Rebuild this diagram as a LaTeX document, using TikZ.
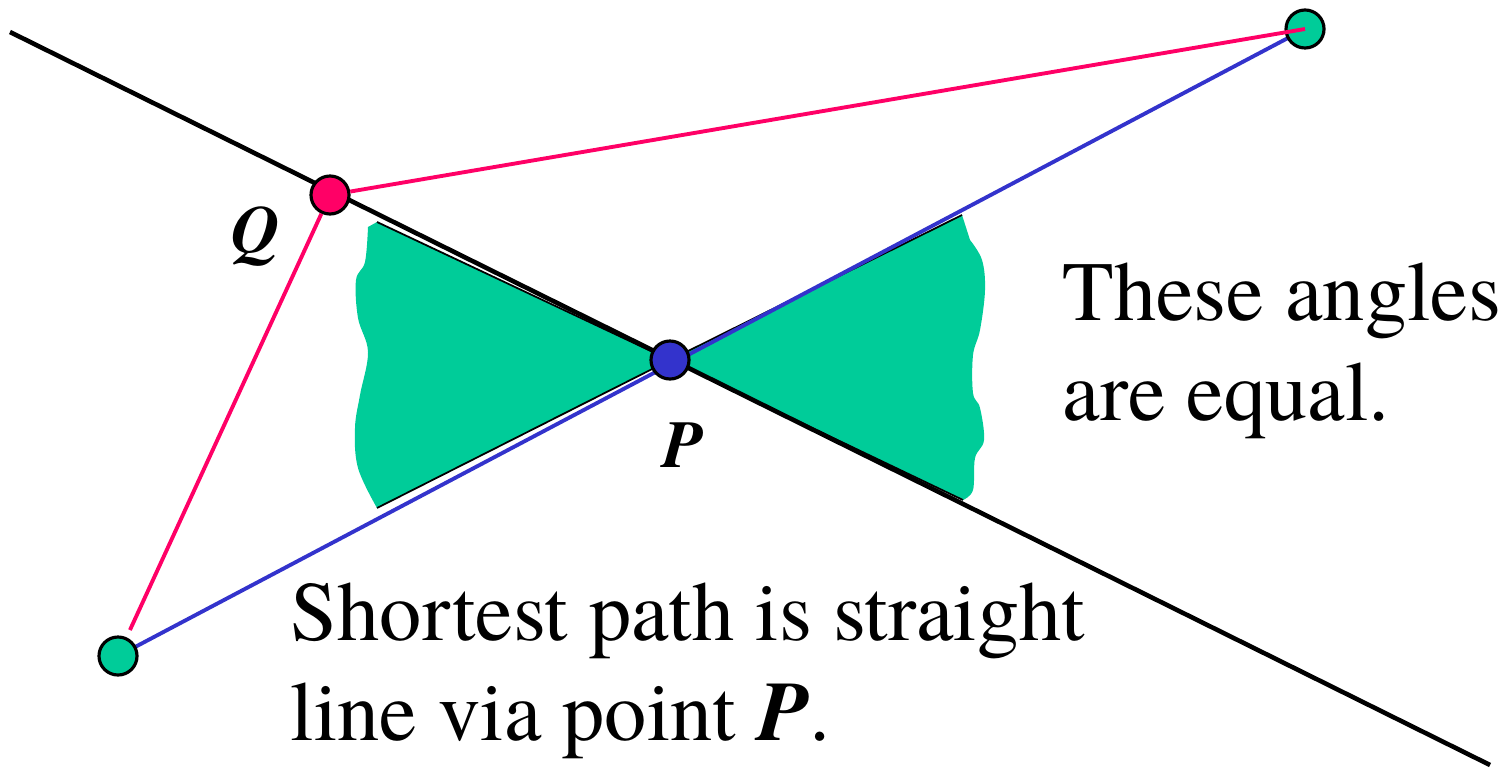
\documentclass[tikz,border=0pt]{standalone}
\usepackage{fontspec}
\setmainfont{texgyretermes}[Extension=.otf, UprightFont=*-regular, BoldFont=*-bold,
  ItalicFont=*-italic, BoldItalicFont=*-bolditalic]
\usetikzlibrary{backgrounds}
\definecolor{ptpink}{HTML}{FF0066}
\definecolor{ptblue}{HTML}{3333CC}
\definecolor{ptgreen}{HTML}{00CC99}

\begin{document}
\begin{tikzpicture}[
  x=0.01cm, y=-0.01cm,
  pt/.style={circle, draw=black, line width=0.9pt, minimum size=0.38cm, inner sep=0pt},
  ptlbl/.style={font=\fontsize{19}{22}\selectfont\bfseries\itshape, inner sep=0pt, anchor=base},
  note/.style={font=\fontsize{24}{28.4}\selectfont, align=left, inner sep=0pt, anchor=base west},
  wedge/.style={fill=ptgreen},
  wedgeedge/.style={line width=0.5pt, draw=black},
  mainline/.style={line width=1.3pt, draw=black},
  pinkline/.style={line width=1.1pt, draw=ptpink},
  blueline/.style={line width=1.1pt, draw=ptblue},
]
\useasboundingbox (0,0) rectangle (1504,767);

% ---- points ----
\node[pt, fill=ptpink]  (q) at (330,195)  {};
\node[pt, fill=ptblue]  (p) at (670,360)  {};
\node[pt, fill=ptgreen] (a) at (1305,29)  {};
\node[pt, fill=ptgreen] (b) at (118,656)  {};
\coordinate (l1) at (10,32);
\coordinate (l2) at (1490,765);

% ---- wedge corners ----
\coordinate (wl1) at (377,222);
\coordinate (wl2) at (377,508);
\coordinate (wr1) at (962,215);
\coordinate (wr2) at (963,500);

\begin{scope}[on background layer]
  % ---- equal angles ----
  \path[wedge] (p.center) -- (wl1) -- plot[smooth, tension=0.6] coordinates
    {(368,227) (365,262) (356,280) (358,318) (368,352) (360,395) (355,428) (358,468) (377,508)} -- cycle;
  \path[wedge] (p.center) -- (wr1) -- plot[smooth, tension=0.6] coordinates
    {(970,240) (982,260) (985,290) (980,330) (973,355) (973,393) (980,408) (984,440) (975,458) (973,490) (963,500)} -- cycle;
  \draw[wedgeedge] (wl1) -- (p.center) -- (wl2);
  \draw[wedgeedge] (wr1) -- (p.center) -- (wr2);

  % ---- lines ----
  \draw[mainline] (l1) -- (l2);
  \draw[blueline] (b.center) -- (a.center);
\end{scope}

\draw[pinkline, shorten >=0.08cm] (q) -- (b);
\draw[pinkline] (q) -- (a.center);

% ---- labels ----
\node[ptlbl] (qlbl) at (256,252) {Q};
\node[ptlbl] (plbl) at (683,467) {P};

\node[note] (angles) at (1062,420) {These angles\\are equal.};
\node[note] (shortest) at (290,740) {Shortest path is straight\\line via point \textbf{\textit{P}}.};
\end{tikzpicture}
\end{document}
